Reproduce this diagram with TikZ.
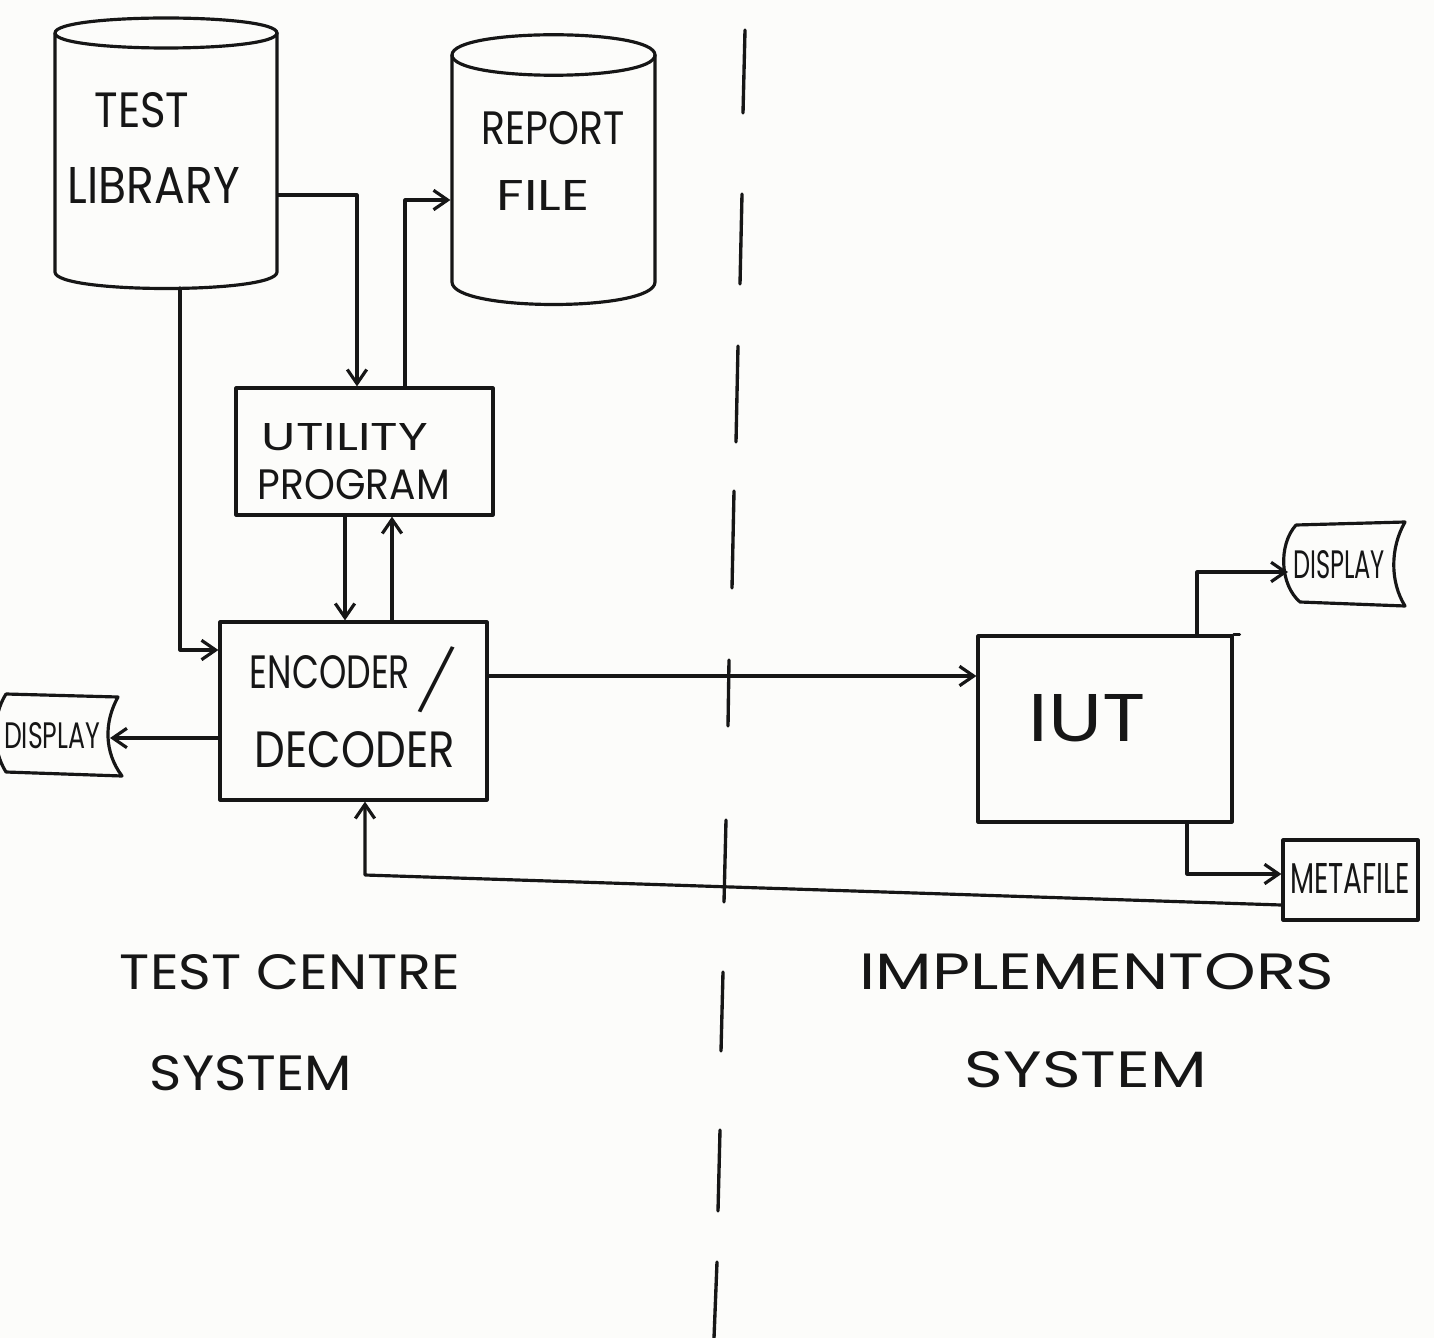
\documentclass[tikz,border=0pt]{standalone}
\usepackage{fontspec}
\setmainfont{Poppins}
\usetikzlibrary{arrows.meta}

% one drawing unit = one pixel of the sketch
\newlength\pxu
\setlength\pxu{0.567pt}
% hand lettering: text squeezed into a box of given width and cap height
\newcommand\lettering[3]{\resizebox{#1\pxu}{#2\pxu}{#3}}

\definecolor{inkc}{RGB}{22,22,22}
\definecolor{paper}{RGB}{252,252,250}

\begin{document}
\begin{tikzpicture}[
  x=0.567pt, y=-0.567pt,
  line width=1.8pt, draw=inkc, line join=round, line cap=round,
  stroke/.style={draw=inkc, line width=1.8pt},
  boxst/.style={stroke, rectangle, inner sep=0pt},
  anchorbox/.style={rectangle, inner sep=0pt, draw=none},
  txt/.style={inner sep=0pt, text=inkc},
  arr/.style={stroke, -{Straight Barb[length=8pt, width=11pt, line width=1.8pt]}},
  divider/.style={draw=inkc, line width=1.9pt, line cap=round}
]
% paper
\fill[paper] (0,0) rectangle (1434,1338);
\useasboundingbox (0,0) rectangle (1434,1338);
\clip (0,0) rectangle (1434,1338);

% ---------- storage cylinders ----------
\node[anchorbox, minimum width=222\pxu, minimum height=270\pxu] (lib) at (166,153) {};
\draw[stroke] (55,33) .. controls (55,13) and (277,13) .. (277,33)
              .. controls (277,53) and (55,53) .. (55,33);
\draw[stroke] (55,33) -- (55,272) .. controls (55,294) and (277,294) .. (277,272) -- (277,33);
\node[txt] (libt1) at (142,110) {\lettering{95}{35}{TEST}};
\node[txt] (libt2) at (154,185) {\lettering{172}{36}{LIBRARY}};

\node[anchorbox, minimum width=203\pxu, minimum height=270\pxu] (rep) at (553.5,170) {};
\draw[stroke] (452,55) .. controls (452,28) and (655,28) .. (655,55)
              .. controls (655,82) and (452,82) .. (452,55);
\draw[stroke] (452,55) -- (452,282) .. controls (452,312) and (655,312) .. (655,282) -- (655,55);
\node[txt] (rept1) at (553,128) {\lettering{143}{33}{REPORT}};
\node[txt] (rept2) at (543,195) {\lettering{93}{30}{FILE}};

% ---------- process boxes ----------
\node[boxst, minimum width=257\pxu, minimum height=127\pxu] (util) at (364.5,451.5) {};
\node[txt] (utilt1) at (345,437) {\lettering{166}{27}{UTILITY}};
\node[txt] (utilt2) at (354,485) {\lettering{192}{30}{PROGRAM}};

\node[boxst, minimum width=267\pxu, minimum height=178\pxu] (enc) at (353.5,711) {};
\node[txt] (enct1) at (330,672) {\lettering{160}{33}{ENCODER}};
\node[txt, rotate=-18] (encslash) at (437,680) {\resizebox*{20\pxu}{72\pxu}{/}};
\node[txt] (enct2) at (355,750) {\lettering{200}{36}{DECODER}};

\node[boxst, minimum width=254\pxu, minimum height=186\pxu] (iut) at (1105,729) {};
\draw[stroke] (iut.north east) -- ++(6,0);
\node[txt] (iutt) at (1087,718) {\lettering{117}{47}{IUT}};

\node[boxst, minimum width=135\pxu, minimum height=80\pxu] (meta) at (1350.5,880) {};
\node[txt] (metat) at (1350,878) {\lettering{120}{30}{METAFILE}};

% ---------- display outputs ----------
\node[anchorbox, minimum width=120\pxu, minimum height=80\pxu] (ldisp) at (60,735) {};
\draw[stroke] (6,694) -- (118,697)
  .. controls (104,722) and (104,752) .. (122,776) -- (6,772)
  .. controls (-8,750) and (-8,716) .. (6,694);
\node[txt] (ldispt) at (52,736) {\lettering{96}{26}{DISPLAY}};
\coordinate (ldin) at (110,738);

\node[anchorbox, minimum width=115\pxu, minimum height=82\pxu] (rdisp) at (1345,563) {};
\draw[stroke] (1296,525) -- (1405,522)
  .. controls (1390,548) and (1390,582) .. (1405,606) -- (1300,602)
  .. controls (1280,585) and (1278,545) .. (1296,525);
\node[txt] (rdispt) at (1339,565) {\lettering{92}{28}{DISPLAY}};
\coordinate (rdin) at (1288,572);

% ---------- connectors ----------
\coordinate (c1) at (357,195);
\draw[arr] (lib.east |- c1) -- (c1) -- (c1 |- util.north);

\coordinate (c2) at (405,200);
\draw[arr] (c2 |- util.north) -- (c2) -- (rep.west |- c2);

\coordinate (c3) at (345,0);
\coordinate (c4) at (392,0);
\draw[arr] (c3 |- util.south) -- (c3 |- enc.north);
\draw[arr] (c4 |- enc.north) -- (c4 |- util.south);

\coordinate (lbot) at (180,288);
\coordinate (c5) at (180,650);
\draw[arr] (lbot) -- (c5) -- (enc.west |- c5);

\draw[arr] (enc.west |- ldin) -- (ldin);

\coordinate (c7) at (0,676);
\draw[arr] (enc.east |- c7) -- (iut.west |- c7);

\coordinate (c8) at (1197,572);
\draw[arr] (c8 |- iut.north) -- (c8) -- (rdin);

\coordinate (c9) at (1187,874);
\draw[arr] (c9 |- iut.south) -- (c9) -- (meta.west |- c9);

\coordinate (mo) at (0,905);
\coordinate (c10) at (365,875);
\draw[arr] (meta.west |- mo) -- (c10) -- (c10 |- enc.south);

% ---------- dividing line between the two systems ----------
\foreach \xa/\ya/\xb/\yb in {
   745/30/743/113, 742/194/740/284, 738/346/736/442, 734/491/732/588,
   729/660/728/726, 726/820/724/902, 723/972/721/1051, 720/1130/718/1211,
   717/1262/714/1338}
  \draw[divider] (\xa,\ya) -- (\xb,\yb);

% ---------- side captions ----------
\node[txt] (lcap1) at (290,972) {\lettering{340}{35}{TEST CENTRE}};
\node[txt] (lcap2) at (251,1073) {\lettering{202}{35}{SYSTEM}};
\node[txt] (rcap1) at (1097,972) {\lettering{475}{36}{IMPLEMENTORS}};
\node[txt] (rcap2) at (1086,1070) {\lettering{242}{36}{SYSTEM}};
\end{tikzpicture}
\end{document}
